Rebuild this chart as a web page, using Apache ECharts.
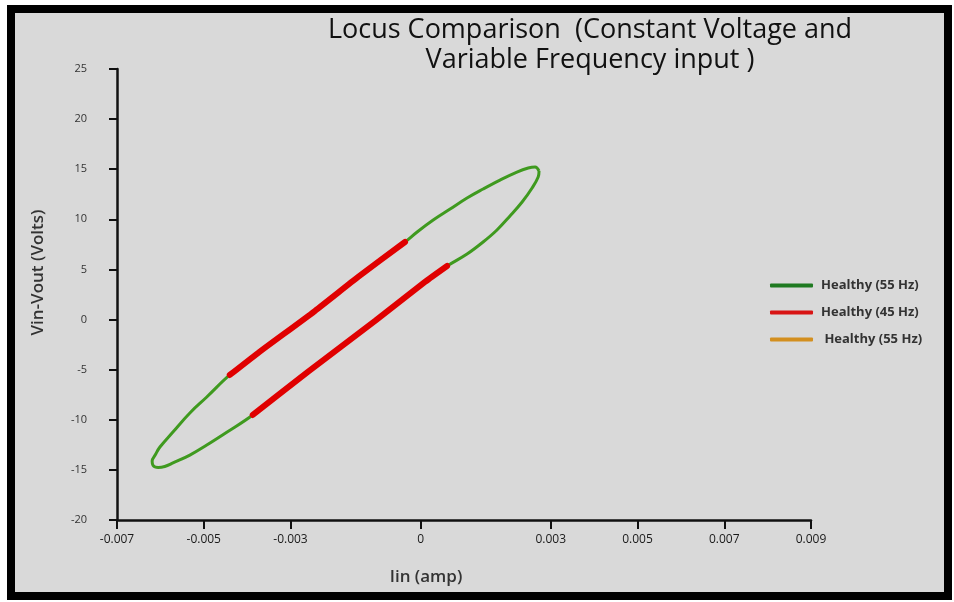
<!DOCTYPE html>
<html>
<head>
<meta charset="utf-8">
<script src="https://cdn.jsdelivr.net/npm/echarts@6/dist/echarts.min.js"></script>
<style>
  html, body { margin: 0; padding: 0; background: #ffffff; }
  #frame { position: absolute; left: 7px; top: 5px; width: 945px; height: 595px;
           box-sizing: border-box; border: 8px solid #000; background: #d9d9d9; }
  #chart { position: absolute; left: 0; top: 0; width: 954px; height: 602px; }
</style>
</head>
<body>
<div id="frame"></div>
<div id="chart"></div>
<script>
// ---- Data (Iin in amp, Vin-Vout in volts) ----
const xTickValues = [-0.007, -0.005, -0.003, 0, 0.003, 0.005, 0.007, 0.009];
const xMin = -0.007, xMax = 0.009;
const yMin = -20, yMax = 25, yStep = 5;

// Healthy (55 Hz) locus: closed loop, traced around the outline
const healthy55 = [
  [0.00273, 14.82], [0.00264, 15.22], [0.00248, 15.12], [0.00222, 14.72],
  [0.00183, 13.92], [0.00144, 13.03], [0.00107, 12.13], [0.00068, 11.03],
  [0.00029, 9.93], [-0.00008, 8.74], [-0.00036, 7.74], [-0.00144, 4.25],
  [-0.00244, 0.85], [-0.00375, -3.34], [-0.00440, -5.53], [-0.00493, -7.73],
  [-0.00532, -9.32], [-0.00571, -11.22], [-0.00601, -12.72], [-0.00612, -13.52],
  [-0.00619, -14.11], [-0.00617, -14.55], [-0.00605, -14.76], [-0.00590, -14.66],
  [-0.00571, -14.31], [-0.00532, -13.52], [-0.00493, -12.52], [-0.00446, -11.22],
  [-0.00387, -9.52], [-0.00260, -5.23], [-0.00105, -0.14], [0.00010, 3.75],
  [0.00061, 5.34], [0.00107, 6.54], [0.00144, 7.74], [0.00176, 8.94],
  [0.00206, 10.33], [0.00234, 11.73], [0.00257, 13.13], [0.00271, 14.22],
  [0.00273, 14.82]
];

// Healthy (45 Hz): two thick branches
const healthy45Upper = [
  [-0.00440, -5.53], [-0.00375, -3.34], [-0.00244, 0.85], [-0.00144, 4.25], [-0.00036, 7.74]
];
const healthy45Lower = [
  [-0.00387, -9.52], [-0.00260, -5.23], [-0.00105, -0.14], [0.00010, 3.75], [0.00061, 5.34]
];

// Third legend entry (no visible trace in the picture)
const healthy55b = [];

const seriesNames = ['Healthy (55 Hz)', 'Healthy (45 Hz)', ' Healthy (55 Hz)'];
const seriesColors = ['#3f9a1f', '#e00000', '#d38f1f'];
const legendColors = ['#1f7a21', '#d81414', '#d38f1f'];

const chart = echarts.init(document.getElementById('chart'), null, { renderer: 'canvas' });
const font = '"Open Sans", "Liberation Sans", sans-serif';

chart.setOption({
  backgroundColor: 'transparent',
  animation: false,
  title: {
    text: 'Locus Comparison  (Constant Voltage and\nVariable Frequency input )',
    left: 585, top: 10, textAlign: 'center',
    textStyle: { fontFamily: font, fontSize: 27, fontWeight: 'normal', color: '#111', lineHeight: 30 }
  },
  legend: {
    orient: 'vertical', left: 765, top: 274,
    itemWidth: 43, itemHeight: 4, itemGap: 14,
    icon: 'roundRect',
    textStyle: { fontFamily: font, fontSize: 13, fontWeight: 'bold', color: '#333', padding: [0, 0, 0, 3] },
    data: seriesNames.map((n, i) => ({ name: n, itemStyle: { color: legendColors[i] } }))
  },
  grid: { left: 117, top: 69, width: 694, height: 451, containLabel: false },
  xAxis: {
    type: 'value', min: xMin, max: xMax,
    name: 'Iin (amp)', nameLocation: 'middle', nameGap: 49,
    nameTextStyle: { fontFamily: font, fontSize: 17, fontWeight: 600, color: '#333', padding: [0, 76, 0, 0] },
    axisLine: { show: true, onZero: false, lineStyle: { color: '#111', width: 2.5 } },
    axisTick: { show: true, length: 9, customValues: xTickValues, lineStyle: { color: '#111', width: 2 } },
    axisLabel: { customValues: xTickValues, margin: 14, fontFamily: font, fontSize: 12, color: '#1a1a1a' },
    splitLine: { show: false }
  },
  yAxis: {
    type: 'value', min: yMin, max: yMax, interval: yStep,
    name: 'Vin-Vout (Volts)', nameLocation: 'middle', nameGap: 70, nameRotate: 90,
    nameTextStyle: { fontFamily: font, fontSize: 17, fontWeight: 600, color: '#333', padding: [0, 0, 0, 44] },
    axisLine: { show: true, onZero: false, lineStyle: { color: '#111', width: 2.5 } },
    axisTick: { show: true, length: 8, lineStyle: { color: '#111', width: 2 } },
    axisLabel: { margin: 30, fontFamily: font, fontSize: 11, color: '#333' },
    splitLine: { show: false }
  },
  series: [
    { name: seriesNames[0], type: 'line', data: healthy55, showSymbol: false, smooth: 0.4,
      lineStyle: { color: seriesColors[0], width: 3 }, itemStyle: { color: seriesColors[0] }, z: 2 },
    { name: seriesNames[1], type: 'line', data: healthy45Upper, showSymbol: false, smooth: 0.2,
      lineStyle: { color: seriesColors[1], width: 6, cap: 'round' }, itemStyle: { color: seriesColors[1] }, z: 3 },
    { name: seriesNames[1], type: 'line', data: healthy45Lower, showSymbol: false, smooth: 0.2,
      lineStyle: { color: seriesColors[1], width: 6, cap: 'round' }, itemStyle: { color: seriesColors[1] }, z: 3 },
    { name: seriesNames[2], type: 'line', data: healthy55b, showSymbol: false,
      lineStyle: { color: seriesColors[2], width: 3 }, itemStyle: { color: seriesColors[2] }, z: 1 }
  ]
});
</script>
</body>
</html>
